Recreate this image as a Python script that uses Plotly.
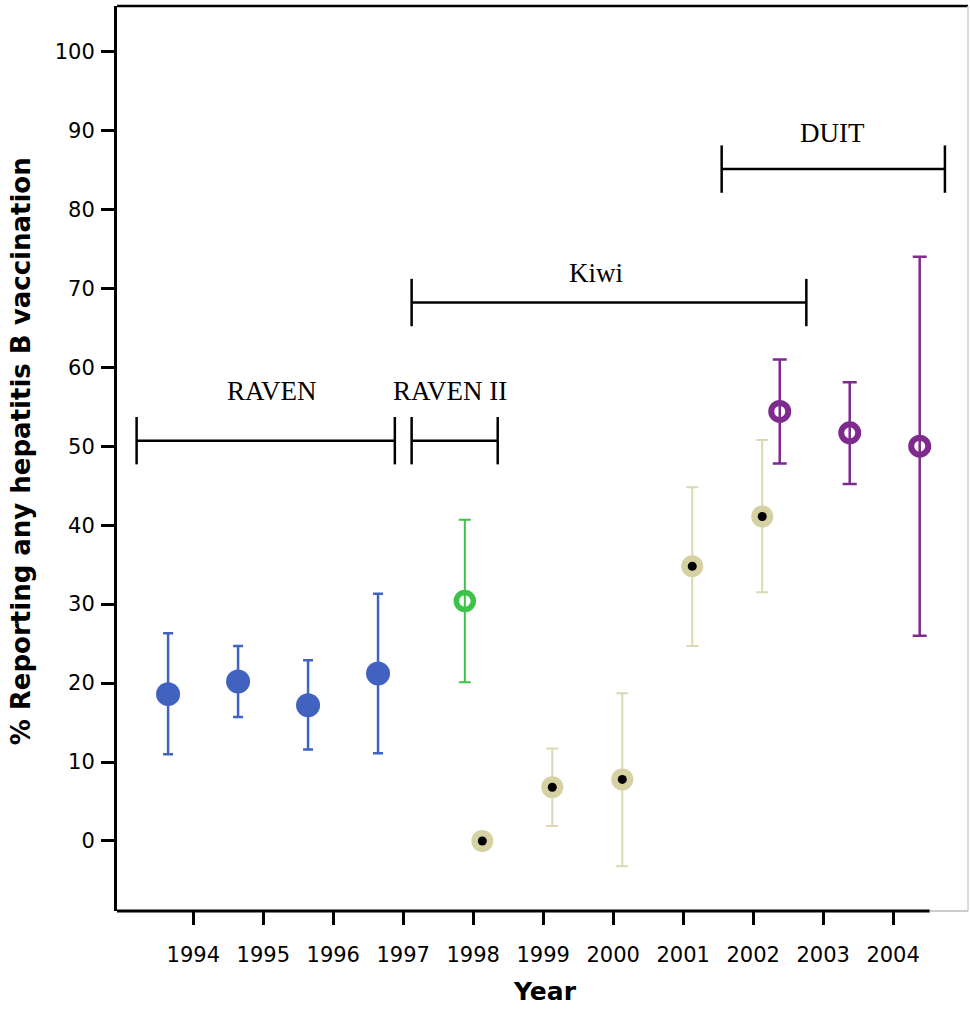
import plotly.graph_objects as go

# ---- data ----
years_tick = [1994, 1995, 1996, 1997, 1998, 1999, 2000, 2001, 2002, 2003, 2004]

raven_years = [1994, 1995, 1996, 1997]
raven_pct = [18.6, 20.2, 17.2, 21.2]
raven_lo = [11.0, 15.7, 11.6, 11.1]
raven_hi = [26.3, 24.7, 22.9, 31.3]

raven2_years = [1998]
raven2_pct = [30.4]
raven2_lo = [20.1]
raven2_hi = [40.7]

kiwi_years = [1998, 1999, 2000, 2001, 2002]
kiwi_pct = [0.0, 6.8, 7.8, 34.8, 41.1]
kiwi_lo = [0.0, 1.9, -3.2, 24.7, 31.5]
kiwi_hi = [0.0, 11.7, 18.7, 44.8, 50.8]

duit_years = [2002, 2003, 2004]
duit_pct = [54.4, 51.7, 50.0]
duit_lo = [47.8, 45.2, 26.0]
duit_hi = [61.0, 58.1, 74.0]

bracket_names = ["RAVEN", "RAVEN II", "Kiwi", "DUIT"]
bracket_start = [1993.19, 1997.12, 1997.12, 2001.55]
bracket_end = [1996.88, 1998.35, 2002.76, 2004.74]
bracket_level = [50.7, 50.7, 68.2, 85.1]
label_x = [1995.12, 1997.67, 1999.75, 2003.13]
label_y = [57.0, 57.0, 71.9, 89.7]

# ---- style ----
offsets = {"raven": -0.36, "raven2": -0.12, "kiwi": 0.13, "duit": 0.38}
BLUE = "#4262c0"
GREEN = "#3ec34a"
TAN = "#d6d1a2"
TAN_BAR = "#dcd9b2"
PURPLE = "#7f2b8e"

fig = go.Figure()


def err(pct, lo, hi):
    return dict(type="data", symmetric=False,
                array=[h - p for p, h in zip(pct, hi)],
                arrayminus=[p - l for p, l in zip(pct, lo)])


# RAVEN: filled blue
e = err(raven_pct, raven_lo, raven_hi)
e.update(color=BLUE, thickness=2.5, width=5)
fig.add_trace(go.Scatter(x=[y + offsets["raven"] for y in raven_years], y=raven_pct,
                         mode="markers", error_y=e,
                         marker=dict(symbol="circle", size=24, color=BLUE),
                         showlegend=False))

# RAVEN II: open green
e = err(raven2_pct, raven2_lo, raven2_hi)
e.update(color=GREEN, thickness=2, width=6)
fig.add_trace(go.Scatter(x=[y + offsets["raven2"] for y in raven2_years], y=raven2_pct,
                         mode="markers", error_y=e,
                         marker=dict(symbol="circle-open", size=17, color=GREEN,
                                     line=dict(width=5.5, color=GREEN)),
                         showlegend=False))

# Kiwi: tan with black dot
kx = [y + offsets["kiwi"] for y in kiwi_years]
ek = err(kiwi_pct, kiwi_lo, kiwi_hi)
ek["array"] = [a if a > 0 else None for a in ek["array"]]
ek["arrayminus"] = [a if a > 0 else None for a in ek["arrayminus"]]
ek.update(color=TAN_BAR, thickness=2, width=6)
fig.add_trace(go.Scatter(x=kx, y=kiwi_pct, mode="markers", error_y=ek,
                         marker=dict(symbol="circle", size=22, color=TAN),
                         showlegend=False))
fig.add_trace(go.Scatter(x=kx, y=kiwi_pct, mode="markers",
                         marker=dict(symbol="circle", size=9, color="black"),
                         showlegend=False))

# DUIT: open purple
e = err(duit_pct, duit_lo, duit_hi)
e.update(color=PURPLE, thickness=2.5, width=7)
fig.add_trace(go.Scatter(x=[y + offsets["duit"] for y in duit_years], y=duit_pct,
                         mode="markers", error_y=e,
                         marker=dict(symbol="circle-open", size=17, color=PURPLE,
                                     line=dict(width=6, color=PURPLE)),
                         showlegend=False))

# brackets
shapes = []
cap = 3.0
for s, t, lv in zip(bracket_start, bracket_end, bracket_level):
    shapes.append(dict(type="line", xref="x", yref="y", x0=s, x1=t, y0=lv, y1=lv,
                       line=dict(color="black", width=2.5)))
    for xx in (s, t):
        shapes.append(dict(type="line", xref="x", yref="y", x0=xx, x1=xx,
                           y0=lv - cap, y1=lv + cap, line=dict(color="black", width=2.5)))

# frame
shapes.append(dict(type="line", xref="paper", yref="paper", x0=0, x1=1, y0=1, y1=1,
                   line=dict(color="black", width=2.5)))
shapes.append(dict(type="line", xref="paper", yref="paper", x0=1, x1=1, y0=0, y1=1,
                   line=dict(color="#d0d0d0", width=1.5)))
shapes.append(dict(type="line", xref="paper", yref="paper", x0=0, x1=0.955, y0=0, y1=0,
                   line=dict(color="black", width=3)))
shapes.append(dict(type="line", xref="paper", yref="paper", x0=0.955, x1=1, y0=0, y1=0,
                   line=dict(color="#bdbdbd", width=1.5)))

annotations = []
for name, lx, ly in zip(bracket_names, label_x, label_y):
    annotations.append(dict(x=lx, y=ly, xref="x", yref="y", text=name, showarrow=False,
                            xanchor="center", yanchor="middle",
                            font=dict(family="Liberation Serif", size=27, color="black")))
annotations.append(dict(x=-0.1128, y=0.508, xref="paper", yref="paper",
                        text="% Reporting any hepatitis B vaccination", textangle=-90,
                        showarrow=False, xanchor="center", yanchor="middle",
                        font=dict(family="DejaVu Sans", size=26, color="black", weight="bold")))
annotations.append(dict(x=0.503, y=-0.089, xref="paper", yref="paper", text="Year",
                        showarrow=False, xanchor="center", yanchor="middle",
                        font=dict(family="DejaVu Sans", size=25, color="black", weight="bold")))

fig.update_layout(
    width=970, height=1010,
    margin=dict(l=117, r=2, t=6, b=99),
    paper_bgcolor="white", plot_bgcolor="white",
    shapes=shapes, annotations=annotations,
    xaxis=dict(range=[1992.91, 2005.07], tickmode="array", tickvals=years_tick,
               ticktext=[str(y) for y in years_tick], ticks="outside", ticklen=13,
               tickwidth=3, tickcolor="black", showgrid=False, zeroline=False,
               showline=False, ticklabelstandoff=12,
               tickfont=dict(family="DejaVu Sans", size=21, color="black")),
    yaxis=dict(range=[-8.87, 105.76], tickmode="array",
               tickvals=[0, 10, 20, 30, 40, 50, 60, 70, 80, 90, 100],
               ticks="outside", ticklen=13, tickwidth=2.5, tickcolor="black",
               showgrid=False, zeroline=False, showline=True, linecolor="black",
               linewidth=3, ticklabelstandoff=2,
               tickfont=dict(family="DejaVu Sans", size=21, color="black")),
)

fig.write_html("out.html")
